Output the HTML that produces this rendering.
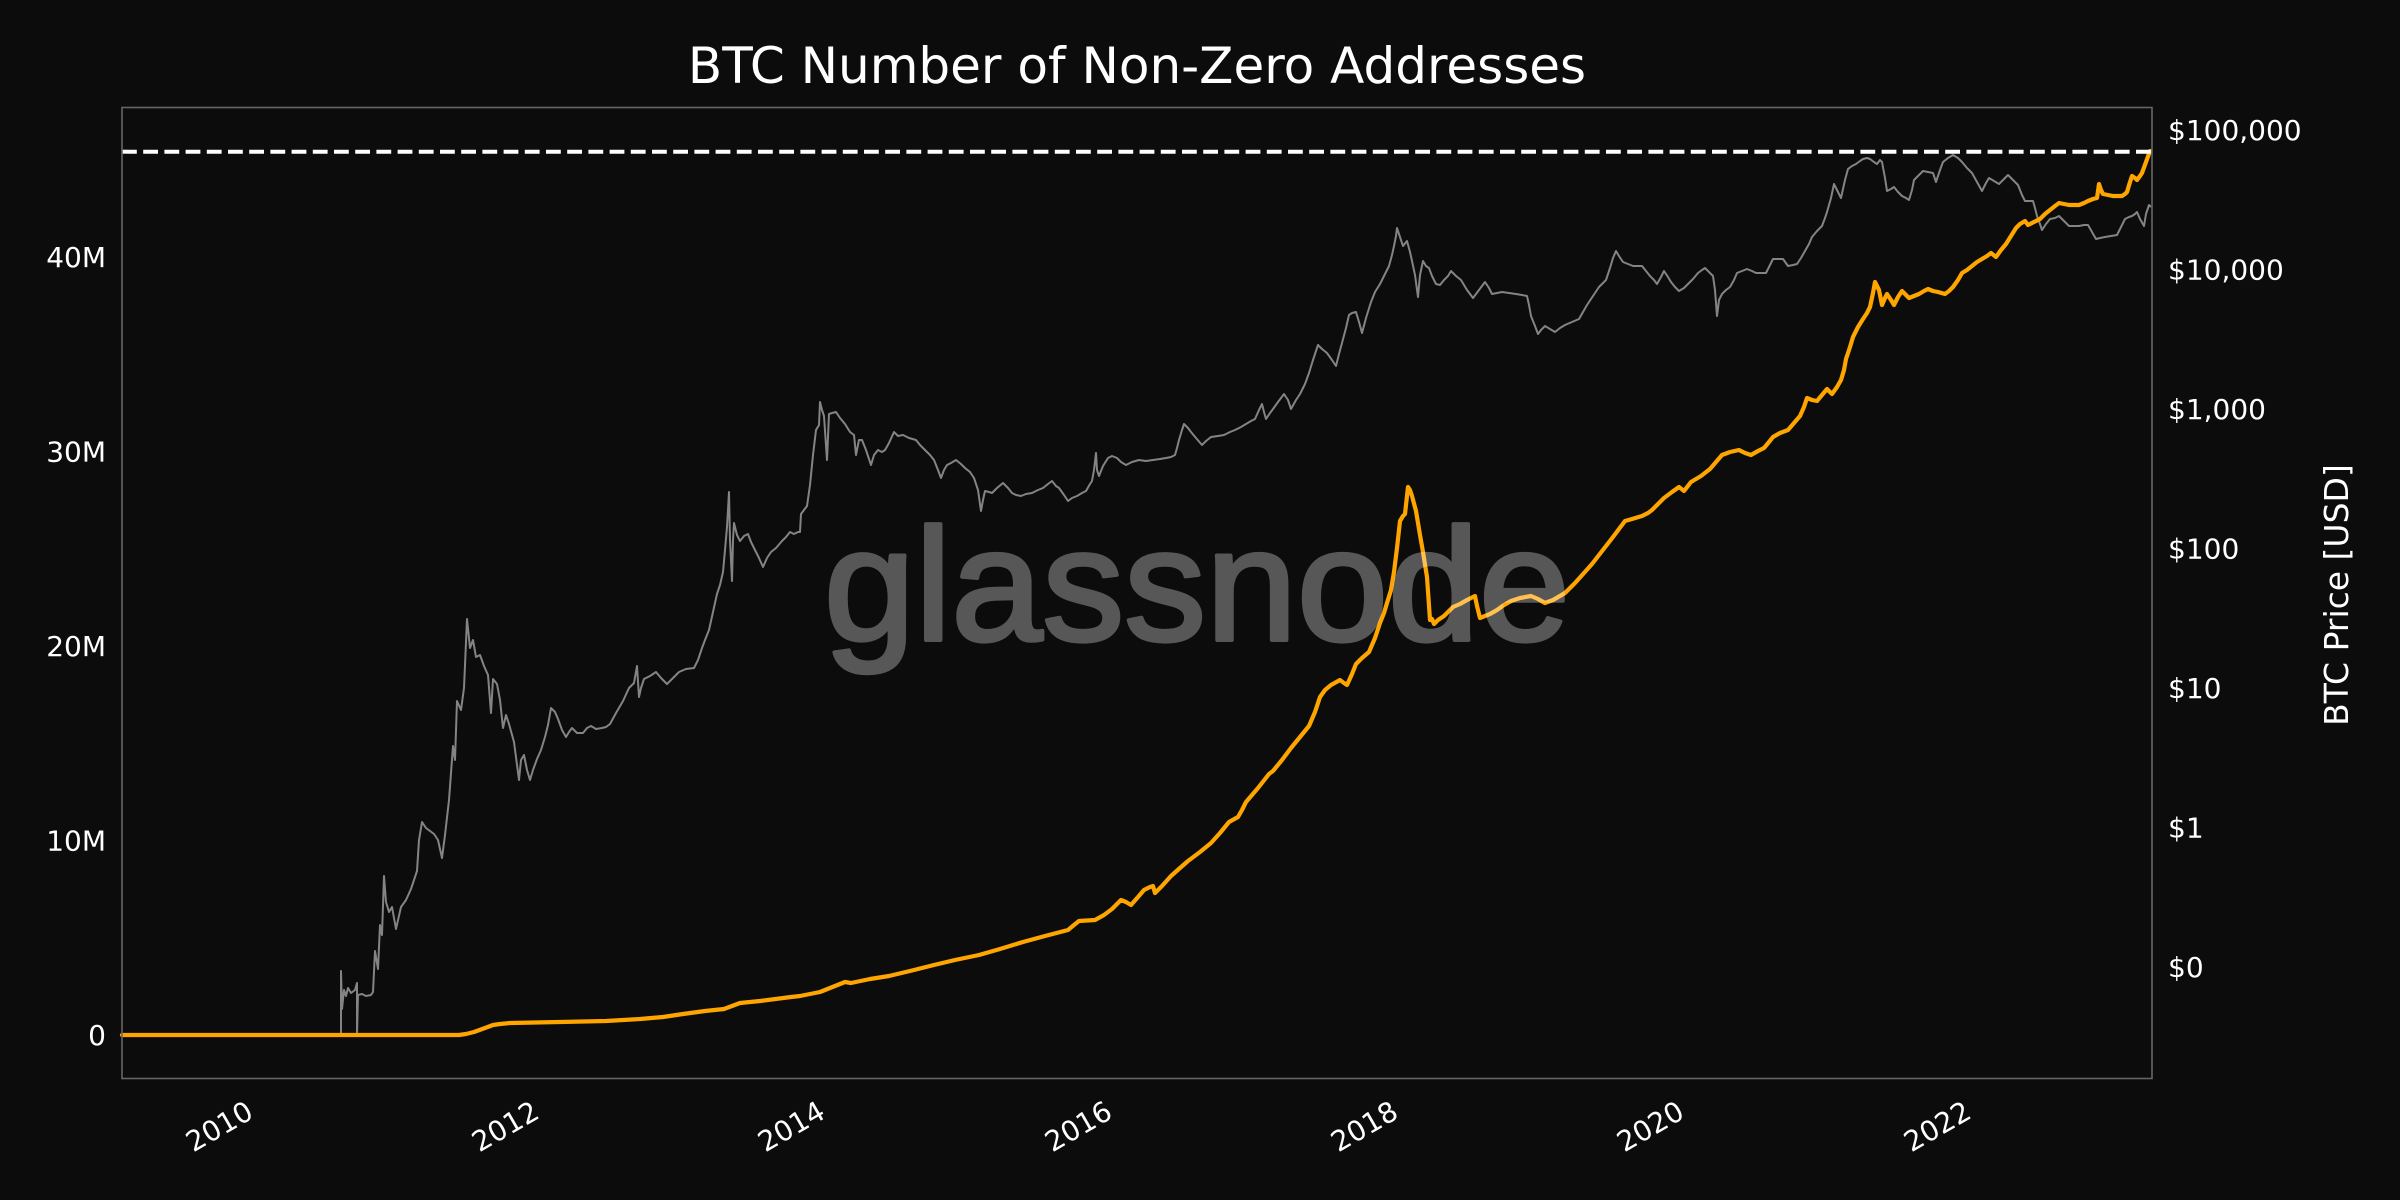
<!DOCTYPE html>
<html><head><meta charset="utf-8"><style>
html,body{margin:0;padding:0;background:#0c0c0c;}
svg{display:block;}
text{font-family:"DejaVu Sans","Liberation Sans",sans-serif;fill:#ffffff;}
</style></head><body>
<svg width="2400" height="1200" viewBox="0 0 2400 1200" xmlns="http://www.w3.org/2000/svg">
<rect x="0" y="0" width="2400" height="1200" fill="#0c0c0c"/>
<text x="1137" y="83" font-size="50" text-anchor="middle">BTC Number of Non-Zero Addresses</text>
<!-- gray price -->
<polyline fill="none" stroke="#848484" stroke-width="2" stroke-linejoin="round" points="341,1033 341,971 342,1009 344,990 346,996 348,988 351,993 355,990 357,983 357,1035 358,995 362,994 366,996 371,995 373,992 375,951 378,969 380,925 382,935 384,876 386,902 389,912 392,907 396,929 401,907 406,900 411,889 417,871 419,840 422,822 426,828 430,831 434,834 438,840 442,858 445,835 449,800 453,746 455,760 457,701 461,710 464,688 467,619 470,648 473,640 476,657 480,655 484,666 488,675 491,713 493,679 497,684 500,700 503,728 506,715 509,724 514,742 519,780 521,760 524,755 527,770 530,780 533,770 537,759 541,750 545,737 548,725 551,708 555,712 558,719 562,730 566,737 569,732 572,728 577,733 583,733 587,728 591,726 596,729 602,728 606,727 610,724 616,713 623,701 629,688 634,683 637,666 639,697 641,688 644,679 650,676 656,672 661,678 667,684 673,678 679,672 686,669 694,668 698,660 702,648 705,640 709,630 713,612 717,594 720,585 723,572 725,550 727,527 729,492 730,540 732,581 733,540 734,523 737,535 740,541 744,536 748,534 751,542 755,550 759,558 763,567 767,558 771,552 776,548 782,541 786,537 790,532 794,534 798,532 800,532 801,514 804,510 807,506 810,485 813,455 816,430 819,425 820,402 822,410 824,416 827,460 829,414 832,413 836,412 840,418 845,424 850,432 854,435 856,455 859,440 862,440 866,450 871,465 874,455 878,450 882,452 885,450 889,443 894,432 898,436 903,435 909,438 916,440 920,445 925,450 930,455 934,460 938,470 941,478 944,470 947,465 951,463 956,460 961,464 965,468 970,472 974,478 978,490 981,511 983,500 985,491 989,492 992,493 997,488 1003,483 1008,488 1012,493 1016,495 1021,496 1026,494 1032,493 1038,490 1043,488 1048,484 1052,481 1056,486 1059,488 1064,495 1068,501 1072,498 1077,496 1082,493 1086,491 1090,484 1092,481 1094,470 1096,453 1097,470 1099,476 1103,466 1108,458 1112,456 1117,458 1121,462 1126,465 1132,462 1139,460 1146,461 1153,460 1160,459 1166,458 1171,457 1175,455 1177,448 1179,440 1182,430 1184,424 1188,428 1191,432 1196,438 1202,445 1206,441 1211,437 1218,436 1224,435 1230,432 1235,430 1241,427 1246,424 1251,421 1255,419 1259,410 1262,404 1264,412 1266,419 1270,413 1273,409 1278,402 1284,394 1288,400 1291,409 1296,400 1300,394 1305,384 1309,373 1313,360 1318,345 1322,349 1327,353 1332,360 1336,366 1339,354 1342,343 1346,328 1349,315 1352,313 1356,312 1359,322 1362,333 1366,318 1371,302 1375,292 1380,284 1385,274 1389,266 1392,255 1394,246 1396,236 1397,228 1400,237 1403,246 1407,241 1410,252 1412,261 1415,275 1418,297 1420,275 1423,261 1426,266 1429,268 1432,276 1436,284 1440,285 1444,280 1448,276 1451,271 1456,276 1461,280 1467,290 1473,298 1479,290 1485,282 1489,288 1492,294 1497,293 1502,292 1509,293 1516,294 1522,295 1527,296 1529,305 1531,316 1535,326 1538,334 1541,330 1545,326 1550,329 1555,332 1560,328 1565,325 1572,322 1579,319 1583,312 1587,305 1593,296 1599,287 1603,283 1606,280 1610,268 1613,258 1616,251 1619,256 1623,262 1628,264 1633,266 1638,266 1642,266 1646,271 1650,276 1654,280 1657,284 1661,277 1664,271 1668,277 1671,282 1675,287 1679,291 1684,288 1688,284 1693,279 1698,273 1702,270 1705,268 1709,272 1713,276 1715,290 1717,316 1719,300 1722,294 1726,290 1730,287 1734,280 1737,273 1742,271 1747,269 1752,271 1756,273 1761,273 1766,273 1770,265 1773,259 1778,259 1783,259 1788,266 1793,265 1797,264 1801,258 1805,251 1809,244 1812,237 1817,231 1822,226 1825,218 1827,212 1831,198 1834,184 1838,192 1841,198 1845,180 1848,169 1852,166 1856,164 1860,161 1863,159 1867,158 1870,159 1874,162 1877,164 1880,160 1882,162 1885,178 1887,191 1891,189 1894,187 1898,192 1902,196 1906,198 1909,200 1912,190 1914,180 1919,175 1923,171 1928,172 1933,173 1936,182 1940,170 1943,162 1948,158 1953,155 1958,158 1962,162 1967,168 1972,173 1977,182 1982,191 1986,183 1989,178 1994,181 1999,184 2004,179 2008,175 2013,180 2018,185 2022,195 2025,201 2029,201 2033,201 2035,208 2037,216 2040,224 2042,230 2046,224 2050,219 2055,218 2059,216 2064,221 2069,226 2074,226 2079,226 2084,225 2088,225 2092,232 2096,239 2100,238 2105,237 2111,236 2117,235 2121,227 2125,219 2129,217 2132,216 2135,214 2137,212 2140,219 2144,226 2146,214 2149,205 2151,207"/>
<!-- orange addresses -->
<polyline fill="none" stroke="#ffa500" stroke-width="4.2" stroke-linejoin="round" stroke-linecap="round" points="122,1035 459,1035 466,1034 474,1032 485,1028 493,1025 500,1024 510,1023 560,1022 606,1021 640,1019 663,1017 683,1014 705,1011 724,1009 732,1006 740,1003 760,1001 791,997 800,996 820,992 845,982 851,983 870,979 889,976 910,971 934,965 955,960 979,955 1000,949 1023,942 1045,936 1068,930 1074,925 1079,921 1095,920 1104,915 1112,909 1117,904 1121,900 1126,902 1131,905 1138,897 1144,890 1150,887 1153,886 1155,893 1162,886 1171,876 1180,868 1188,861 1200,852 1211,843 1220,833 1229,822 1238,817 1242,810 1246,802 1258,788 1269,774 1273,771 1282,760 1291,748 1300,737 1309,726 1315,712 1320,697 1325,690 1331,685 1340,680 1344,683 1347,685 1352,674 1356,664 1362,658 1369,652 1375,638 1380,623 1384,613 1387,603 1391,590 1394,572 1397,548 1400,521 1403,516 1405,514 1408,487 1410,490 1412,496 1416,511 1420,535 1423,552 1427,577 1430,620 1432,619 1434,624 1438,620 1444,616 1449,611 1453,607 1460,604 1467,600 1475,596 1477,606 1480,618 1485,616 1490,614 1497,610 1504,605 1511,601 1520,598 1531,596 1538,599 1545,603 1553,600 1565,593 1575,583 1584,573 1592,564 1599,555 1606,546 1613,537 1619,529 1625,521 1632,519 1642,516 1648,513 1652,510 1658,504 1664,498 1672,492 1679,487 1684,491 1691,482 1701,476 1710,469 1716,462 1722,455 1730,452 1739,450 1745,453 1751,455 1758,451 1764,448 1769,442 1773,437 1780,433 1788,430 1794,423 1800,416 1804,407 1807,398 1812,400 1817,401 1822,395 1827,389 1832,394 1837,387 1841,380 1844,370 1846,359 1850,347 1853,337 1858,327 1863,319 1867,313 1870,307 1873,293 1875,282 1879,290 1882,305 1885,298 1887,294 1891,300 1894,305 1898,297 1902,291 1906,295 1909,298 1914,296 1919,294 1924,291 1928,289 1933,291 1938,292 1945,294 1949,291 1953,287 1958,280 1962,273 1967,270 1972,266 1977,262 1982,259 1987,256 1991,253 1996,257 2001,250 2006,244 2011,236 2016,228 2020,224 2025,221 2028,225 2034,222 2040,219 2045,214 2050,210 2055,206 2059,203 2064,204 2069,205 2074,205 2079,205 2084,203 2088,201 2093,199 2097,198 2099,184 2101,190 2103,194 2108,195 2113,196 2118,196 2122,196 2125,194 2127,192 2130,182 2132,176 2135,178 2137,180 2140,176 2142,173 2146,162 2150,151"/>
<!-- dashed ATH line -->
<line x1="122" y1="151.7" x2="2152" y2="151.7" stroke="#ffffff" stroke-width="4" stroke-dasharray="14.8 6.4"/>
<!-- watermark -->
<g opacity="0.31">
<text x="824" y="640" font-size="160" textLength="746" lengthAdjust="spacingAndGlyphs" stroke="#ffffff" stroke-width="4" stroke-linejoin="round" style="fill:#ffffff;font-family:'Liberation Sans',sans-serif;">glassnode</text>
</g>
<!-- frame -->
<rect x="122" y="107.5" width="2030" height="971" fill="none" stroke="#666666" stroke-width="1.6"/>
<!-- left ticks -->
<g font-size="28" text-anchor="end">
<text x="106" y="1045">0</text>
<text x="106" y="850.5">10M</text>
<text x="106" y="656">20M</text>
<text x="106" y="461.5">30M</text>
<text x="106" y="267">40M</text>
</g>
<!-- right ticks -->
<g font-size="28" text-anchor="start">
<text x="2168" y="140">$100,000</text>
<text x="2168" y="279.5">$10,000</text>
<text x="2168" y="419">$1,000</text>
<text x="2168" y="558.5">$100</text>
<text x="2168" y="698">$10</text>
<text x="2168" y="837.5">$1</text>
<text x="2168" y="977">$0</text>
</g>
<text x="2348" y="595" font-size="33" text-anchor="middle" transform="rotate(-90 2348 595)">BTC Price [USD]</text>
<!-- x ticks -->
<g font-size="28" text-anchor="end">
<text x="255" y="1117" transform="rotate(-30 255 1117)">2010</text>
<text x="541" y="1117" transform="rotate(-30 541 1117)">2012</text>
<text x="827" y="1117" transform="rotate(-30 827 1117)">2014</text>
<text x="1114" y="1117" transform="rotate(-30 1114 1117)">2016</text>
<text x="1400" y="1117" transform="rotate(-30 1400 1117)">2018</text>
<text x="1686" y="1117" transform="rotate(-30 1686 1117)">2020</text>
<text x="1973" y="1117" transform="rotate(-30 1973 1117)">2022</text>
</g>
</svg>
</body></html>
